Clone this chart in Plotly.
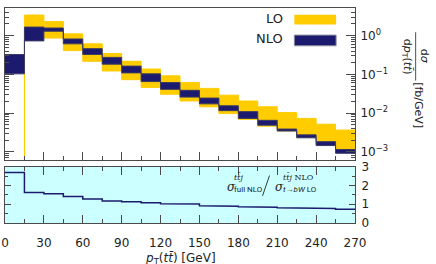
import plotly.graph_objects as go

# ---------------- data ----------------
edges = list(range(0, 271, 15))  # pT(tt) bin edges [GeV]
lo_upper = [0, 3.39, 2.30, 1.11, 0.613, 0.345, 0.2175, 0.137, 0.0917, 0.0613,
            0.0434, 0.029, 0.0205, 0.01454, 0.0103, 0.00729, 0.00516, 0.00365]
lo_lower = [0, 1.09, 0.866, 0.41, 0.2175, 0.122, 0.0729, 0.046, 0.0307, 0.0205,
            0.01454, 0.00971, 0.00688, 0.0046, 0.00345, 0.00244, 0.00154, 0.00109]
nlo_upper = [0.325, 1.66, 1.57, 0.818, 0.46, 0.274, 0.163, 0.103, 0.0613, 0.0387,
             0.0244, 0.0154, 0.0109, 0.0065, 0.00387, 0.00274, 0.00183, 0.00115]
nlo_lower = [0.103, 0.73, 1.30, 0.613, 0.326, 0.183, 0.109, 0.065, 0.041, 0.0259,
             0.0173, 0.01155, 0.00729, 0.00487, 0.00345, 0.0023, 0.00145, 0.000917]
ratio = [2.70, 1.63, 1.56, 1.42, 1.28, 1.18, 1.13, 1.08, 1.03, 1.01,
         0.92, 0.90, 0.87, 0.84, 0.81, 0.79, 0.77, 0.74]
log_ticks = [1e-3, 1e-2, 1e-1, 1]
log_tick_text = ["10<sup>−3</sup>", "10<sup>−2</sup>", "10<sup>−1</sup>", "10<sup>0</sup>"]

LO_COL = "#FFCC00"
NLO_COL = "#1B1A6E"
AX_COL = "#4a4a4a"
FONT = "DejaVu Sans"

W, H = 436, 264
L, R, T, B = 3, 81, 1, 41
PW, PH = W - L - R, H - T - B


def px(x):
    return (x - L) / PW


def py(y):
    return (H - B - y) / PH


def step(vals, floor=None):
    xs, ys = [], []
    for i, v in enumerate(vals):
        if floor is not None and v <= 0:
            v = floor
        xs += [edges[i], edges[i + 1]]
        ys += [v, v]
    return xs, ys


fig = go.Figure()

# LO band
x, y = step(lo_lower, 1e-9)
fig.add_trace(go.Scatter(x=x, y=y, mode="lines", line=dict(color=LO_COL, width=1),
                         showlegend=False, hoverinfo="skip", xaxis="x", yaxis="y"))
x, y = step(lo_upper, 1e-9)
fig.add_trace(go.Scatter(x=x, y=y, mode="lines", line=dict(color=LO_COL, width=1),
                         fill="tonexty", fillcolor=LO_COL,
                         showlegend=False, hoverinfo="skip", xaxis="x", yaxis="y"))
# NLO band
x, y = step(nlo_lower)
fig.add_trace(go.Scatter(x=x, y=y, mode="lines", line=dict(color="#3a3a62", width=1),
                         showlegend=False, hoverinfo="skip", xaxis="x", yaxis="y"))
x, y = step(nlo_upper)
fig.add_trace(go.Scatter(x=x, y=y, mode="lines", line=dict(color="#3a3a62", width=1),
                         fill="tonexty", fillcolor=NLO_COL,
                         showlegend=False, hoverinfo="skip", xaxis="x", yaxis="y"))
# ratio
x, y = step(ratio)
fig.add_trace(go.Scatter(x=x, y=y, mode="lines", line=dict(color=NLO_COL, width=1.5),
                         showlegend=False, hoverinfo="skip", xaxis="x2", yaxis="y2"))

minor_log = [m * 10.0 ** e for e in range(-4, 1) for m in range(2, 10)]

common_x = dict(range=[0, 270], tick0=0, dtick=30, ticks="inside", ticklen=8,
                tickcolor=AX_COL, tickwidth=1, showline=True, linecolor=AX_COL,
                linewidth=1, showgrid=False, zeroline=False,
                minor=dict(dtick=15, ticks="inside", ticklen=4, tickcolor=AX_COL,
                           showgrid=False))

fig.update_layout(
    width=W, height=H, margin=dict(l=L, r=R, t=T, b=B),
    paper_bgcolor="white", plot_bgcolor="white",
    font=dict(family=FONT, size=12, color="#222"),
    xaxis=dict(domain=[0, 1], anchor="y", showticklabels=False, mirror=True, **common_x),
    xaxis2=dict(domain=[0, 1], anchor="y2", showticklabels=True, mirror="ticks",
                ticklabelstandoff=9, ticklabeloverflow="allow",
                tickfont=dict(size=12), **common_x),
    yaxis=dict(type="log", domain=[py(158.3), 1], anchor="x", side="right",
               range=[-3.22, 0.7125], tickmode="array", tickvals=log_ticks,
               ticktext=log_tick_text, ticks="inside", ticklen=9, tickcolor=AX_COL,
               showline=True, linecolor=AX_COL, linewidth=1, mirror="ticks",
               showgrid=False, zeroline=False, ticklabelstandoff=2,
               ticklabeloverflow="allow", tickfont=dict(size=12),
               minor=dict(tickmode="array", tickvals=minor_log, ticks="inside",
                          ticklen=4, tickcolor=AX_COL, showgrid=False)),
    yaxis2=dict(domain=[0, py(165)], anchor="x2", side="right", range=[0, 3],
                tick0=0, dtick=1, ticks="inside", ticklen=6, tickcolor=AX_COL,
                showline=True, linecolor=AX_COL, linewidth=1, mirror="ticks",
                showgrid=False, zeroline=False, ticklabelstandoff=3,
                ticklabeloverflow="allow", tickfont=dict(size=12),
                minor=dict(dtick=0.5, ticks="inside", ticklen=3, tickcolor=AX_COL,
                           showgrid=False)),
)

shapes = [
    # ratio panel background
    dict(type="rect", xref="x2 domain", yref="y2 domain", x0=0, x1=1, y0=0, y1=1,
         fillcolor="#CCFFFF", line=dict(width=0), layer="below"),
    # legend swatches
    dict(type="rect", xref="paper", yref="paper", x0=px(294), x1=px(336),
         y0=py(18), y1=py(8), fillcolor=LO_COL, line=dict(width=0)),
    dict(type="rect", xref="paper", yref="paper", x0=px(294), x1=px(336),
         y0=py(40), y1=py(29), fillcolor=NLO_COL, line=dict(color="#8a8aa0", width=1)),
    # fraction bar of y title
    dict(type="line", xref="paper", yref="paper", x0=px(416), x1=px(416),
         y0=py(26), y1=py(76), line=dict(color="#222", width=0.8)),
    # big slash of the ratio label
    dict(type="line", xref="paper", yref="paper", x0=px(262), x1=px(269),
         y0=py(195), y1=py(174), line=dict(color="#222", width=0.9)),
]
fig.update_layout(shapes=shapes)

anns = []


def ann(text, x, y, size=12, xa="center", ya="middle", angle=0, family=FONT):
    anns.append(dict(text=text, xref="paper", yref="paper", x=px(x), y=py(y),
                     xanchor=xa, yanchor=ya, showarrow=False, textangle=angle,
                     font=dict(family=family, size=size, color="#222")))


ann("LO", 285, 12, size=13, xa="right")
ann("NLO", 285, 33, size=13, xa="right")

# y title (rotated)
ann("d<i>σ</i>", 425, 51, size=11, angle=90)
ann("d<i>p</i><sub>T</sub>(<i>t</i><i>t̄</i>)", 407, 51, size=11, angle=90)
ann("[fb/GeV]", 419, 101, size=11, angle=90)

# x title
ann("<i>p</i><sub>T</sub>(<i>t</i><i>t̄</i>) [GeV]", 179, 260, size=12)

# ratio label
SERIF = "DejaVu Serif"
SCR = "Roboto"
ann("<i>σ</i>", 224, 186, size=12, xa="left", family=SERIF)
ann("<i>t</i><i>t̄</i><i>j</i>", 231, 176, size=8, xa="left", family=SERIF)
ann("full NLO", 231, 188, size=8, xa="left", family=SCR)
ann("<i>σ</i>", 273, 186, size=12, xa="left", family=SERIF)
ann("<i>t</i><i>t̄</i><i>j</i> NLO", 281, 176, size=8, xa="left", family=SERIF)
ann("<i>t</i>→<i>bW</i> LO", 281, 188, size=8, xa="left", family=SCR)
fig.update_layout(annotations=anns)

fig.write_html("out.html", config={"displayModeBar": False},
               post_script="document.body.style.margin='0';document.body.style.padding='0';")
